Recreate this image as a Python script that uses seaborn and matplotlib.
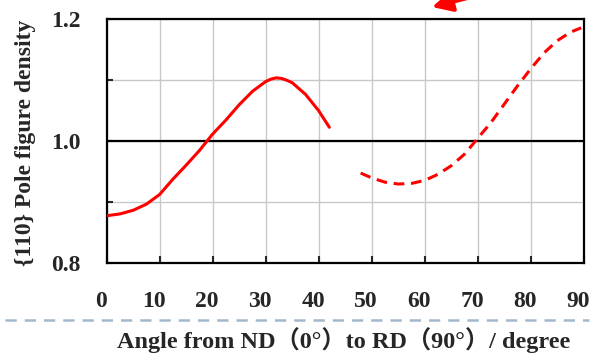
import matplotlib
matplotlib.use("Agg")
import matplotlib.pyplot as plt
import matplotlib.transforms as mtransforms
import pandas as pd
import seaborn as sns
from matplotlib.lines import Line2D

# values
angle_a = [0, 2.5, 5, 7.5, 10, 12.5, 15, 17.5, 20, 22.5, 25, 27.5, 30, 31, 32, 33, 34,
           35, 37.5, 40, 42]
density_a = [0.877, 0.880, 0.886, 0.896, 0.912, 0.937, 0.960, 0.984, 1.011, 1.034,
             1.059, 1.081, 1.097, 1.101, 1.103, 1.102, 1.099, 1.095, 1.076, 1.049, 1.022]
angle_b = [47.9, 50, 52.5, 55, 57.5, 60, 62.5, 65, 67.5, 70, 72.5, 75, 77.5, 80,
           82.5, 85, 87.5, 89.5]
density_b = [0.947, 0.939, 0.932, 0.929, 0.930, 0.935, 0.945, 0.959, 0.978, 1.004,
             1.030, 1.060, 1.090, 1.118, 1.144, 1.164, 1.178, 1.185]
x_ticks = [0, 10, 20, 30, 40, 50, 60, 70, 80, 90]
y_ticks = [0.8, 0.9, 1.0, 1.1, 1.2]
y_tick_labels = ['0.8', '', '1.0', '', '1.2']

sns.set_style('ticks')
plt.rcParams['font.family'] = ['Liberation Serif', 'Noto Sans CJK JP']
plt.rcParams['font.weight'] = 'bold'

df = pd.DataFrame({
    'Angle': angle_a + angle_b,
    'Density': density_a + density_b,
    'part': ['a'] * len(angle_a) + ['b'] * len(angle_b),
})

fig = plt.figure(figsize=(5.92, 3.56), dpi=100)
ax = fig.add_axes([0.1802, 0.262, 0.806, 0.6855])

ax.grid(True, color='#c8c8c8', lw=1.0, zorder=0)
ax.axhline(1.0, color='black', lw=1.6, zorder=1)

sns.lineplot(data=df, x='Angle', y='Density', style='part',
             dashes={'a': '', 'b': (3.5, 2.2)}, color='red', lw=2.2,
             legend=False, ax=ax, sort=False, zorder=3)

ax.set_xlim(0, 90)
ax.set_ylim(0.8, 1.2)
ax.set_xticks(x_ticks)
ax.set_yticks(y_ticks)
ax.set_yticklabels(y_tick_labels)
ax.tick_params(axis='x', direction='in', length=5, width=1.5, pad=20,
               labelsize=17, top=False)
ax.tick_params(axis='y', direction='in', length=4, width=1.5, pad=19,
               labelsize=17, right=False)
shift = mtransforms.ScaledTranslation(-4 / 72, 0, fig.dpi_scale_trans)
for lab in ax.get_xticklabels():
    lab.set_transform(lab.get_transform() + shift)
for s in ax.spines.values():
    s.set_linewidth(1.6)
    s.set_color('black')

ax.set_xlabel('Angle from ND（0°）to RD（90°）/ degree', fontsize=17.5,
              fontweight='bold')
ax.set_ylabel('{110} Pole figure density', fontsize=17, fontweight='bold')
ax.xaxis.set_label_coords(0.497, -0.262)
ax.yaxis.set_label_coords(-0.148, 0.49)

# decorative dashed separator and cut-off arrow from the source slide
fig.add_artist(Line2D([0.008, 0.995], [0.101, 0.101], color='#a3b8cc', lw=1.8,
                      dashes=(4.5, 3.2), transform=fig.transFigure))
ax.annotate('', xy=(432, 349), xycoords='figure pixels', xytext=(600, 392),
            textcoords='figure pixels', annotation_clip=False,
            arrowprops=dict(arrowstyle='-|>', color='red', lw=3, mutation_scale=30,
                            shrinkA=0, shrinkB=0))

fig.savefig('out.png', dpi=100)
